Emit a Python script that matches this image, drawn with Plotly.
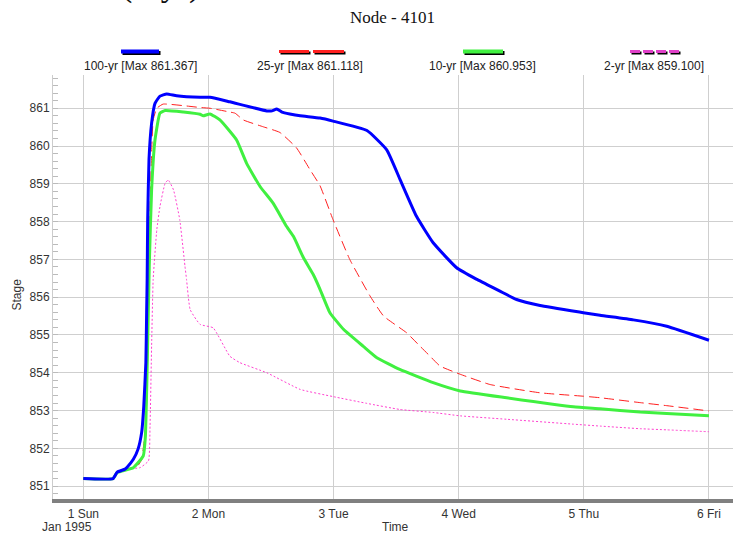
import plotly.graph_objects as go
import pandas as pd

# ---------------- data (hours after 1995-01-01 00:00, stage) ----------------
h100 = [0, 5.7, 6.5, 8.0, 8.4, 9.6, 10.5, 11.2, 11.6, 12.0, 12.15, 12.25, 12.35, 12.6, 13.1, 13.75,
        14.7, 16.0, 17.9, 22.4, 24.3, 28.1, 35.2, 36.2, 37.1, 38.1, 39.6, 41.6, 45.4, 47.9, 54.4,
        58.2, 60.8, 63.9, 67.1, 71.6, 75.5, 79.9, 83.1, 87.6, 95.9, 99.1, 105.5, 111.9, 120.0]
v100 = [851.2, 851.2, 851.37, 851.45, 851.5, 851.71, 851.98, 852.43, 853.12, 854.27, 855.6, 856.5,
        858.05, 859.64, 860.6, 861.13, 861.32, 861.38, 861.33, 861.29, 861.29, 861.17, 860.93,
        860.93, 860.98, 860.9, 860.85, 860.8, 860.74, 860.66, 860.41, 859.9, 859.1, 858.14,
        857.44, 856.78, 856.47, 856.16, 855.94, 855.78, 855.59, 855.52, 855.40, 855.23, 854.86]

h25 = [0, 5.7, 6.5, 8.0, 9.6, 10.5, 11.2, 11.5, 12.0, 12.3, 12.6, 12.85, 13.1, 13.4, 14.1, 15.3,
       19.8, 22.4, 24.3, 28.1, 29.1, 30.7, 34.5, 37.7, 40.9, 43.5, 45.4, 47.9, 51.1, 55.0, 57.6,
       62.0, 64.6, 66.5, 68.4, 72.3, 78.0, 87.6, 95.9, 99.1, 106.8, 111.9, 120.0]
v25 = [851.2, 851.2, 851.37, 851.45, 851.49, 851.55, 851.7, 852.0, 852.6, 854.0, 857.0, 858.6,
       859.81, 860.69, 861.0, 861.11, 861.06, 861.02, 861.0, 860.9, 860.87, 860.69, 860.51,
       860.36, 859.95, 859.37, 858.95, 858.05, 857.0, 856.03, 855.5, 855.06, 854.7, 854.44,
       854.18, 853.96, 853.69, 853.47, 853.38, 853.34, 853.21, 853.13, 852.99]

h10 = [0, 5.7, 6.5, 9.6, 11.5, 11.9, 12.2, 12.65, 13.1, 13.75, 14.7, 15.7, 19.2, 22.4, 23.0, 24.3,
       26.2, 29.4, 31.3, 33.9, 36.4, 39.0, 40.3, 42.2, 44.1, 45.4, 47.3, 49.9, 53.7, 56.3, 60.7,
       67.1, 72.3, 81.2, 94.0, 99.1, 106.8, 111.9, 120.0]
v10 = [851.2, 851.2, 851.36, 851.49, 851.8, 852.3, 853.83, 856.82, 858.84, 860.16, 860.87, 860.94,
       860.9, 860.84, 860.8, 860.85, 860.69, 860.16, 859.55, 858.93, 858.49, 857.87, 857.61,
       857.05, 856.6, 856.21, 855.59, 855.15, 854.7, 854.4, 854.09, 853.74, 853.52, 853.34,
       853.1, 853.05, 852.96, 852.92, 852.86]

h2 = [0, 5.7, 6.5, 8.0, 10.9, 12.5, 12.8, 13.1, 13.4, 14.1, 14.7, 15.7, 16.3, 17.3, 18.5, 19.5,
      19.8, 20.5, 22.4, 24.9, 28.1, 30.0, 35.2, 41.6, 47.9, 54.4, 60.7, 67.1, 72.3, 81.2, 94.0,
      99.1, 106.8, 111.9, 120.0]
v2 = [851.2, 851.2, 851.37, 851.45, 851.49, 851.67, 852.59, 854.7, 856.47, 857.79, 858.4, 859.02,
      859.1, 858.84, 858.05, 856.82, 856.47, 855.67, 855.28, 855.19, 854.44, 854.27, 854.0,
      853.56, 853.37, 853.19, 853.03, 852.95, 852.86, 852.77, 852.64, 852.59, 852.52, 852.49,
      852.44]

series_names = ["100-yr [Max 861.367]", "25-yr [Max 861.118]", "10-yr [Max 860.953]", "2-yr [Max 859.100]"]
tick_days = [1, 2, 3, 4, 5, 6]
tick_labels = ["1 Sun", "2 Mon", "3 Tue", "4 Wed", "5 Thu", "6 Fri"]
y_ticks = [851, 852, 853, 854, 855, 856, 857, 858, 859, 860, 861]

start = pd.Timestamp("1995-01-01 00:00")


def to_time(hours):
    return [start + pd.Timedelta(hours=h) for h in hours]


# ---------------- figure ----------------
W, H = 733, 535
ML, MR, MT, MB = 53, 0, 75, 36
PW, PH = W - ML - MR, H - MT - MB


def px_x(p):
    return (p - ML) / PW


def px_y(p):
    return (H - MB - p) / PH


fig = go.Figure()
styles = [
    dict(color="#0000ff", width=3, dash="solid", shape="spline", smoothing=0.4),
    dict(color="#ff2020", width=1, dash="10px,5px", shape="spline", smoothing=0.4),
    dict(color="#40f040", width=3, dash="solid", shape="spline", smoothing=0.4),
    dict(color="#ff40d0", width=1, dash="2px,2px", shape="spline", smoothing=0.4),
]
data = [(h100, v100), (h25, v25), (h10, v10), (h2, v2)]
order = [3, 1, 2, 0]
for i in order:
    hs, vs = data[i]
    fig.add_trace(go.Scatter(x=to_time(hs), y=vs, mode="lines", name=series_names[i],
                             line=styles[i], showlegend=False))

# ---------------- custom legend (sample above text) ----------------
legend_cx = [140, 310, 482, 654]
shapes = []
annotations = []
sample_y = 51.5


def seg(x0, x1, y, color, width):
    shapes.append(dict(type="line", xref="paper", yref="paper", x0=px_x(x0), x1=px_x(x1),
                       y0=px_y(y), y1=px_y(y), line=dict(color=color, width=width)))


seg(122.5, 160.5, sample_y + 1.5, "black", 4)
seg(121, 159, sample_y, "#0000ff", 4)
for a, b in [(279, 309), (313, 344)]:
    seg(a + 1.5, b + 1.5, sample_y + 1.5, "black", 3)
    seg(a, b, sample_y, "#ff2020", 3)
seg(464.5, 504.5, sample_y + 1.5, "black", 4)
seg(463, 503, sample_y, "#40f040", 4)
for a, b in [(630, 640), (643, 653), (656, 666), (669, 679)]:
    seg(a + 1.5, b + 1.5, sample_y + 1.5, "black", 3)
    seg(a, b, sample_y, "#e040c8", 3)

for cx, name in zip(legend_cx, series_names):
    annotations.append(dict(x=px_x(cx), y=px_y(66), xref="paper", yref="paper", text=name,
                            showarrow=False, xanchor="center", yanchor="middle",
                            font=dict(family="Liberation Sans, Arial", size=12, color="#222")))

annotations.append(dict(x=px_x(392), y=px_y(18), xref="paper", yref="paper", text="Node - 4101",
                        showarrow=False, xanchor="center", yanchor="middle",
                        font=dict(family="Liberation Serif, Times New Roman", size=17, color="#111")))
annotations.append(dict(x=px_x(160), y=px_y(6), xref="paper", yref="paper", text="(2-yr)",
                        showarrow=False, xanchor="center", yanchor="bottom",
                        font=dict(family="Liberation Serif, Times New Roman", size=34, color="#111")))
annotations.append(dict(x=px_x(395), y=px_y(527), xref="paper", yref="paper", text="Time",
                        showarrow=False, xanchor="center", yanchor="middle",
                        font=dict(family="Liberation Sans, Arial", size=12, color="#333")))
annotations.append(dict(x=px_x(67), y=px_y(527), xref="paper", yref="paper", text="Jan 1995",
                        showarrow=False, xanchor="center", yanchor="middle",
                        font=dict(family="Liberation Sans, Arial", size=12, color="#333")))
annotations.append(dict(x=px_x(16.5), y=px_y(295), xref="paper", yref="paper", text="Stage",
                        showarrow=False, xanchor="center", yanchor="middle", textangle=-90,
                        font=dict(family="Liberation Sans, Arial", size=12, color="#333")))

x0 = start + pd.Timedelta(hours=(ML - 83.3) / 5.214)
x1 = start + pd.Timedelta(hours=(W - MR - 83.3) / 5.214)

fig.update_layout(
    width=W, height=H,
    margin=dict(l=ML, r=MR, t=MT, b=MB, pad=0),
    paper_bgcolor="white", plot_bgcolor="white",
    shapes=shapes, annotations=annotations,
    font=dict(family="Liberation Sans, Arial", size=12, color="#333"),
    xaxis=dict(
        type="date", range=[x0, x1],
        tickmode="array",
        tickvals=[start + pd.Timedelta(days=d - 1) for d in tick_days],
        ticktext=tick_labels,
        showgrid=True, gridcolor="#cfcfcf", gridwidth=1,
        showline=True, linecolor="#808080", linewidth=4,
        ticks="", ticklabelstandoff=1,
        zeroline=False,
    ),
    yaxis=dict(
        range=[850.66, 861.88],
        tickmode="array", tickvals=y_ticks, ticktext=[str(v) for v in y_ticks],
        showgrid=True, gridcolor="#cfcfcf", gridwidth=1,
        showline=True, linecolor="#cccccc", linewidth=1,
        ticks="", ticklabelstandoff=0, zeroline=False,
        minor=dict(dtick=0.2, ticks="inside", ticklen=5, tickcolor="#bbbbbb", showgrid=False),
    ),
)

fig.write_html("out.html", config={"displayModeBar": False},
               post_script="document.body.style.margin='0';document.body.style.padding='0';"
                           "document.body.style.overflow='hidden';")
